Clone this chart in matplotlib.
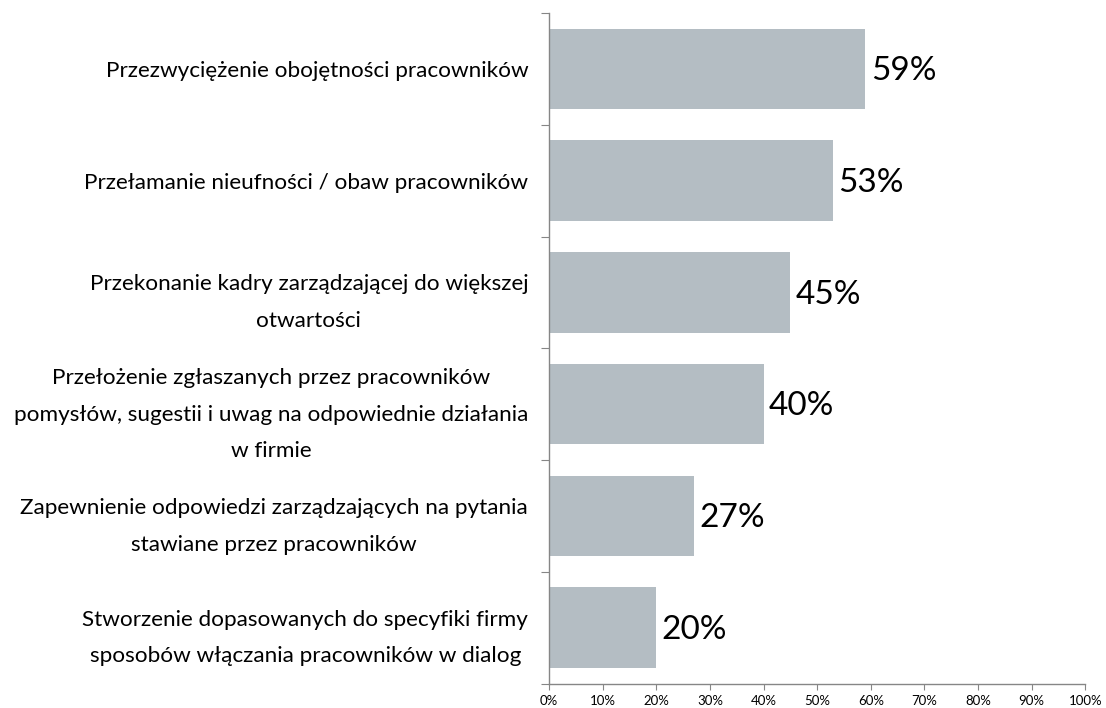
import matplotlib
matplotlib.use("Agg")
from matplotlib import pyplot as plt
from matplotlib.ticker import FixedLocator, PercentFormatter

categories = [
    "Przezwyciężenie obojętności pracowników",
    "Przełamanie nieufności / obaw pracowników",
    "Przekonanie kadry zarządzającej do większej\notwartości",
    "Przełożenie zgłaszanych przez pracowników\npomysłów, sugestii i uwag na odpowiednie działania\nw firmie",
    "Zapewnienie odpowiedzi zarządzających na pytania\nstawiane przez pracowników",
    "Stworzenie dopasowanych do specyfiki firmy\nsposobów włączania pracowników w dialog",
]
values = [59, 53, 45, 40, 27, 20]
x_ticks = [0, 10, 20, 30, 40, 50, 60, 70, 80, 90, 100]

plt.rcParams["font.family"] = ["Lato", "DejaVu Sans"]

fig = plt.figure(figsize=(11.06, 7.08), dpi=100)
ax = fig.add_axes([0.4964, 0.0346, 0.4849, 0.947])

n = len(categories)
pos = list(range(n))
ax.barh(pos, values, height=0.72, color="#b4bdc3")

for y, v in zip(pos, values):
    ax.text(v + 1.0, y + 0.02, f"{v}%", va="center", ha="left", fontsize=24, color="black")

ax.set_xlim(0, 100)
ax.set_ylim(n - 0.5, -0.5)

# labels sit at the bar centres, tick marks at the boundaries between bars
ax.yaxis.set_major_locator(FixedLocator([i - 0.5 for i in range(n + 1)]))
ax.yaxis.set_major_formatter(plt.NullFormatter())
ax.yaxis.set_minor_locator(FixedLocator(pos))
ax.set_yticklabels(categories, minor=True, fontsize=16.2, multialignment="center",
                   linespacing=2.05)
ax.tick_params(axis="y", which="minor", length=0, pad=15)
ax.tick_params(axis="y", which="major", length=6, direction="out", color="#868686")

ax.xaxis.set_major_locator(FixedLocator(x_ticks))
ax.xaxis.set_major_formatter(PercentFormatter(decimals=0))
ax.tick_params(axis="x", length=4, direction="out", color="#868686", labelsize=9.5, pad=4)

for side in ("top", "right"):
    ax.spines[side].set_visible(False)
for side in ("left", "bottom"):
    ax.spines[side].set_color("#868686")
    ax.spines[side].set_linewidth(1.0)

fig.savefig("out.png", dpi=100)
